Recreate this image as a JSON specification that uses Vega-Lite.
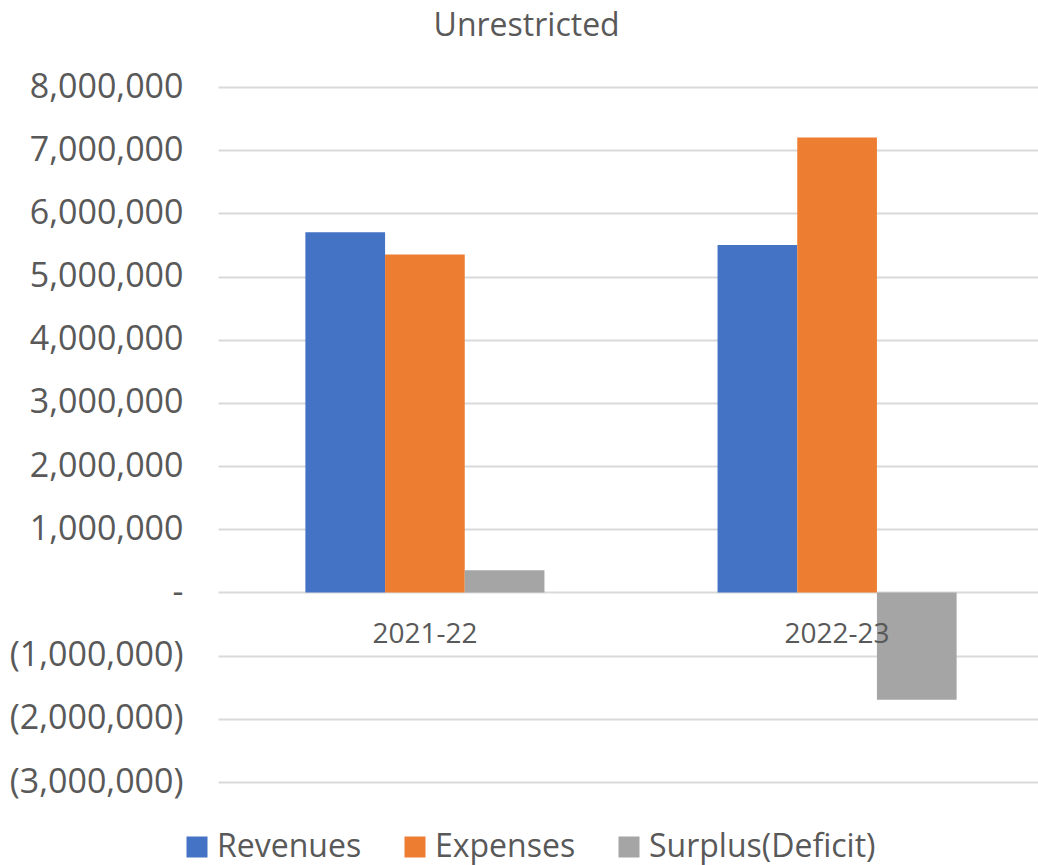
{
  "$schema": "https://vega.github.io/schema/vega-lite/v6.json",
  "width": 826,
  "height": 695,
  "autosize": "none",
  "padding": {"left": 218, "top": 87, "right": 0, "bottom": 83},
  "background": "white",
  "config": {
    "font": "Open Sans",
    "view": {"stroke": null}
  },
  "title": {
    "text": "Unrestricted",
    "fontSize": 32,
    "fontWeight": "normal",
    "color": "#595959",
    "anchor": "middle",
    "frame": "bounds",
    "offset": 27
  },
  "data": {
    "values": [
      {"year": "2021-22", "series": "Revenues", "value": 5700000},
      {"year": "2021-22", "series": "Expenses", "value": 5350000},
      {"year": "2021-22", "series": "Surplus(Deficit)", "value": 350000},
      {"year": "2022-23", "series": "Revenues", "value": 5500000},
      {"year": "2022-23", "series": "Expenses", "value": 7200000},
      {"year": "2022-23", "series": "Surplus(Deficit)", "value": -1700000}
    ]
  },
  "mark": {"type": "bar"},
  "encoding": {
    "x": {
      "field": "year",
      "type": "nominal",
      "scale": {"paddingInner": 0.42, "paddingOuter": 0.212},
      "axis": {
        "title": null,
        "labelAngle": 0,
        "labelFontSize": 28,
        "labelColor": "#595959",
        "labelPadding": 28,
        "ticks": false,
        "domain": false,
        "grid": false,
        "offset": -190,
        "zindex": 1
      }
    },
    "xOffset": {
      "field": "series",
      "type": "nominal",
      "sort": ["Revenues", "Expenses", "Surplus(Deficit)"],
      "scale": {"paddingInner": 0, "paddingOuter": 0}
    },
    "y": {
      "field": "value",
      "type": "quantitative",
      "scale": {"domain": [-3000000, 8000000], "nice": false, "zero": false},
      "axis": {
        "title": null,
        "values": [-3000000, -2000000, -1000000, 0, 1000000, 2000000, 3000000, 4000000, 5000000, 6000000, 7000000, 8000000],
        "labelExpr": "datum.value == 0 ? '-' : (datum.value < 0 ? '(' + format(-datum.value, ',') + ')' : format(datum.value, ','))",
        "labelFontSize": 34,
        "labelColor": "#595959",
        "labelPadding": 35,
        "ticks": false,
        "domain": false,
        "gridColor": "#d9d9d9",
        "gridWidth": 2
      }
    },
    "color": {
      "field": "series",
      "type": "nominal",
      "sort": ["Revenues", "Expenses", "Surplus(Deficit)"],
      "scale": {"domain": ["Revenues", "Expenses", "Surplus(Deficit)"], "range": ["#4472C4", "#ED7D31", "#A5A5A5"]},
      "legend": {
        "title": null,
        "orient": "none",
        "direction": "horizontal",
        "legendX": -37,
        "legendY": 744,
        "symbolType": "square",
        "symbolSize": 441,
        "symbolStrokeWidth": 0,
        "labelFontSize": 32,
        "labelColor": "#595959",
        "labelOffset": 4,
        "columnPadding": 37,
        "labelLimit": 400
      }
    }
  }
}
